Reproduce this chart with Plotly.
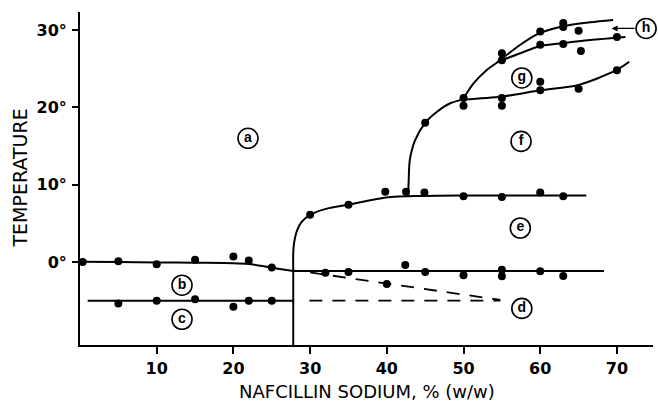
import plotly.graph_objects as go

# ---- data ----
# measured points
pts_x = [0.35, 5, 10, 15, 20, 22, 25,
         5, 10, 15, 20, 22, 25,
         32, 35, 42.4, 45, 50, 55, 55, 60, 63,
         40,
         30, 35, 39.8, 42.5, 44.9, 50, 55, 60, 63,
         45, 50, 50, 55, 55, 60, 60, 65, 70,
         55, 55, 60, 63, 63, 65, 60, 63, 65.3, 70]
pts_y = [0.0, 0.1, -0.3, 0.3, 0.7, 0.2, -0.7,
         -5.35, -5.0, -4.8, -5.8, -5.0, -5.0,
         -1.4, -1.3, -0.4, -1.3, -1.7, -1.0, -1.85, -1.2, -1.8,
         -2.85,
         6.1, 7.4, 9.1, 9.1, 9.0, 8.5, 8.4, 9.0, 8.5,
         18.0, 21.2, 20.2, 21.2, 20.2, 23.3, 22.2, 22.4, 24.8,
         27.0, 26.1, 29.8, 30.9, 30.4, 29.9, 28.1, 28.2, 27.3, 29.1]

# phase boundaries
b_left_x = [0, 5, 10, 15, 20, 22, 24.3, 26, 27.8]
b_left_y = [0.05, 0.0, -0.05, -0.1, -0.15, -0.25, -0.6, -0.9, -1.15]
b_right_x = [27.8, 68.3]
b_right_y = [-1.15, -1.15]
c_x = [1.0, 27.8]
c_y = [-5.0, -5.0]
vert_x = [27.8, 27.8]
vert_y = [-10.73, -1.15]
e_x = [27.8, 27.85, 28.3, 28.9, 30.0, 32.2, 34.9, 39.9, 44.8, 49.9, 66.0]
e_y = [-1.15, 2.0, 4.1, 5.2, 6.1, 6.9, 7.4, 8.35, 8.55, 8.6, 8.6]
f_x = [42.8, 42.85, 43.0, 43.7, 45.0, 46.5, 48.2, 49.9]
f_y = [8.55, 10.6, 13.2, 15.8, 18.0, 19.4, 20.5, 21.0]
g_low_x = [49.9, 55.0, 60.0, 65.0, 69.9, 71.6]
g_low_y = [21.0, 21.4, 22.2, 22.9, 24.8, 25.9]
h_up_x = [49.9, 51.3, 53.0, 54.5, 57.4, 59.9, 63.0, 66.5, 69.5]
h_up_y = [21.0, 23.1, 24.8, 25.9, 28.1, 29.6, 30.5, 31.0, 31.3]
h_low_x = [54.5, 57.4, 59.9, 63.0, 66.5, 71.1]
h_low_y = [25.9, 27.0, 27.9, 28.3, 28.7, 29.1]
dash_slope_x = [30.0, 54.8]
dash_slope_y = [-1.35, -4.9]
dash_flat_x = [29.9, 54.8]
dash_flat_y = [-5.0, -5.0]

# region labels
lab_text = ["a", "b", "c", "d", "e", "f", "g", "h"]
lab_x = [21.9, 13.3, 13.3, 57.6, 57.4, 57.5, 57.6, 73.8]
lab_y = [16.0, -3.0, -7.4, -6.0, 4.4, 15.6, 23.8, 30.2]

x_ticks = [10, 20, 30, 40, 50, 60, 70]
y_ticks = [0, 10, 20, 30]
y_tick_text = ["0°", "10°", "20°", "30°"]

fig = go.Figure()

LW = 2
def solid(x, y, spline=True):
    fig.add_trace(go.Scatter(x=x, y=y, mode="lines",
                             line=dict(color="black", width=LW,
                                       shape="spline" if spline else "linear",
                                       smoothing=0.8),
                             hoverinfo="skip", showlegend=False, cliponaxis=False))

solid(b_left_x, b_left_y)
solid(b_right_x, b_right_y, False)
solid(c_x, c_y, False)
solid(vert_x, vert_y, False)
solid(e_x, e_y)
solid(f_x, f_y)
solid(g_low_x, g_low_y)
solid(h_up_x, h_up_y)
solid(h_low_x, h_low_y)

for dx, dy in [(dash_slope_x, dash_slope_y), (dash_flat_x, dash_flat_y)]:
    fig.add_trace(go.Scatter(x=dx, y=dy, mode="lines",
                             line=dict(color="black", width=1.8, dash="13px,10px"),
                             hoverinfo="skip", showlegend=False))

fig.add_trace(go.Scatter(x=pts_x, y=pts_y, mode="markers",
                         marker=dict(color="black", size=8),
                         showlegend=False, cliponaxis=False))

fig.add_trace(go.Scatter(x=lab_x, y=lab_y, mode="markers+text", text=lab_text,
                         textposition="middle center",
                         textfont=dict(family="Liberation Sans Narrow, Liberation Sans", size=14,
                                       color="black", weight="bold"),
                         marker=dict(symbol="circle-open", size=20, color="black",
                                     line=dict(width=1.6, color="black")),
                         showlegend=False, cliponaxis=False))

# arrow pointing from label h to its region
fig.add_annotation(x=69.3, y=30.2, ax=72.5, ay=30.2, xref="x", yref="y",
                   axref="x", ayref="y", text="", showarrow=True,
                   arrowhead=2, arrowsize=1, arrowwidth=1.2, arrowcolor="black")

fig.add_annotation(text="TEMPERATURE", xref="paper", yref="paper", x=0, y=0.5,
                   xshift=-61, xanchor="center", yanchor="middle", textangle=-90,
                   showarrow=False,
                   font=dict(family="DejaVu Sans", size=19, color="black"))
fig.add_annotation(text="NAFCILLIN SODIUM, % (w/w)", xref="paper", yref="paper",
                   x=0.5, y=0, yshift=-59, yanchor="bottom", xanchor="center",
                   showarrow=False,
                   font=dict(family="DejaVu Sans", size=18, color="black"))

fig.update_layout(
    width=658, height=404,
    margin=dict(l=80, r=5, t=12, b=59),
    paper_bgcolor="white", plot_bgcolor="white",
    xaxis=dict(range=[0, 74.7], showline=True, linewidth=2, linecolor="black",
               ticks="outside", ticklen=7, tickwidth=1.5, tickcolor="black",
               tickvals=x_ticks, showgrid=False, zeroline=False,
               ticklabelstandoff=1,
               tickfont=dict(family="DejaVu Sans", size=16, color="black", weight="bold")),
    yaxis=dict(range=[-10.73, 32.33], showline=True, linewidth=2, linecolor="black",
               ticks="outside", ticklen=6, tickwidth=1.5, tickcolor="black",
               tickvals=y_ticks, ticktext=y_tick_text, showgrid=False, zeroline=False,
               ticklabelstandoff=2,
               tickfont=dict(family="DejaVu Sans", size=16, color="black", weight="bold")),
)

fig.write_html("out.html")
